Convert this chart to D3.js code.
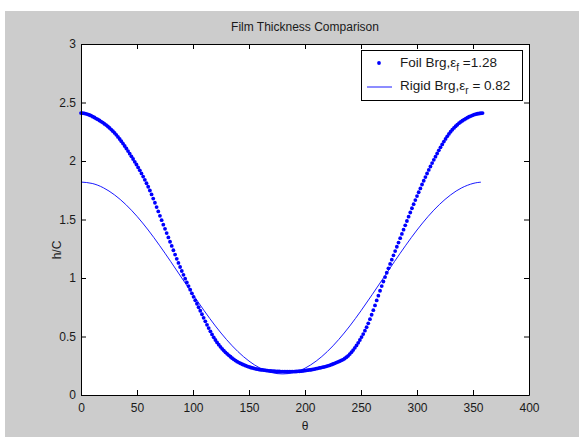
<!DOCTYPE html>
<html>
<head>
<meta charset="utf-8">
<script src="https://d3js.org/d3.v7.min.js"></script>
<style>
  body { margin: 0; background: #ffffff; }
  text { font-family: "Liberation Sans", Arial, sans-serif; }
</style>
</head>
<body>
<script>
// film thickness of the foil bearing, one value every 1.5 degrees from 0
var foilStep = 1.5;
var foilValues = [
  2.410, 2.409, 2.407, 2.403, 2.399, 2.393, 2.387, 2.379, 2.372, 2.363,
  2.355, 2.346, 2.337, 2.328, 2.317, 2.307, 2.295, 2.283, 2.269, 2.255,
  2.240, 2.224, 2.206, 2.188, 2.169, 2.149, 2.128, 2.107, 2.085, 2.063,
  2.040, 2.017, 1.993, 1.970, 1.945, 1.920, 1.894, 1.867, 1.839, 1.810,
  1.780, 1.748, 1.714, 1.679, 1.643, 1.606, 1.569, 1.531, 1.494, 1.456,
  1.420, 1.384, 1.347, 1.310, 1.274, 1.237, 1.200, 1.164, 1.129, 1.094,
  1.060, 1.027, 0.994, 0.962, 0.931, 0.900, 0.869, 0.839, 0.809, 0.780,
  0.750, 0.720, 0.690, 0.660, 0.630, 0.600, 0.572, 0.544, 0.518, 0.493,
  0.470, 0.449, 0.430, 0.412, 0.395, 0.380, 0.365, 0.352, 0.339, 0.327,
  0.315, 0.304, 0.294, 0.285, 0.277, 0.270, 0.263, 0.257, 0.251, 0.245,
  0.240, 0.235, 0.231, 0.227, 0.224, 0.221, 0.218, 0.216, 0.214, 0.212,
  0.210, 0.208, 0.207, 0.205, 0.204, 0.203, 0.202, 0.201, 0.201, 0.200,
  0.200, 0.200, 0.199, 0.199, 0.199, 0.200, 0.200, 0.200, 0.201, 0.202,
  0.203, 0.204, 0.206, 0.208, 0.210, 0.212, 0.214, 0.216, 0.219, 0.222,
  0.225, 0.228, 0.231, 0.234, 0.238, 0.241, 0.245, 0.249, 0.254, 0.259,
  0.265, 0.271, 0.277, 0.283, 0.289, 0.296, 0.303, 0.312, 0.323, 0.335,
  0.350, 0.366, 0.384, 0.403, 0.424, 0.446, 0.470, 0.495, 0.521, 0.550,
  0.580, 0.613, 0.648, 0.686, 0.725, 0.766, 0.808, 0.849, 0.891, 0.931,
  0.970, 1.008, 1.045, 1.083, 1.120, 1.157, 1.194, 1.230, 1.267, 1.303,
  1.340, 1.377, 1.413, 1.450, 1.487, 1.524, 1.560, 1.596, 1.631, 1.666,
  1.700, 1.733, 1.766, 1.799, 1.831, 1.863, 1.893, 1.924, 1.953, 1.982,
  2.010, 2.037, 2.064, 2.091, 2.117, 2.142, 2.166, 2.189, 2.211, 2.231,
  2.250, 2.267, 2.283, 2.297, 2.310, 2.323, 2.334, 2.344, 2.353, 2.362,
  2.370, 2.378, 2.384, 2.390, 2.396, 2.400, 2.404, 2.406, 2.408, 2.410
];

// film thickness of the rigid bearing
var rigidTheta = [0, 10, 20, 30, 40, 50, 60, 70, 80, 90, 100, 110, 120,
                  130, 140, 150, 160, 170, 180, 190, 200, 210, 220, 230,
                  240, 250, 260, 270, 280, 290, 300, 310, 320, 330, 340,
                  350, 357];
var rigidValues = [1.820, 1.808, 1.771, 1.710, 1.628, 1.527, 1.410, 1.280,
                   1.142, 1.000, 0.858, 0.720, 0.590, 0.473, 0.372, 0.290,
                   0.229, 0.192, 0.180, 0.192, 0.229, 0.290, 0.372, 0.473,
                   0.590, 0.720, 0.858, 1.000, 1.142, 1.280, 1.410, 1.527,
                   1.628, 1.710, 1.771, 1.808, 1.819];

// ticks
var xTicks = [0, 50, 100, 150, 200, 250, 300, 350, 400];
var yTicks = [0, 0.5, 1, 1.5, 2, 2.5, 3];
var yTickLabels = ["0", "0.5", "1", "1.5", "2", "2.5", "3"];

// svg size and axes box
var w = 579;
var h = 437;
var boxLeft = 81;
var boxRight = 529;
var boxTop = 44;
var boxBottom = 395;
var blue = "#0000ff";

var svg = d3.select("body")
            .append("svg")
            .attr("width", w)
            .attr("height", h);

// grey figure background
svg.append("rect")
   .attr("x", 5)
   .attr("y", 11)
   .attr("width", w - 5)
   .attr("height", h - 11)
   .attr("fill", "#cccccc");

// white axes area
svg.append("rect")
   .attr("x", boxLeft)
   .attr("y", boxTop)
   .attr("width", boxRight - boxLeft)
   .attr("height", boxBottom - boxTop)
   .attr("fill", "#ffffff");

var xScale = d3.scaleLinear()
               .domain([0, 400])
               .range([boxLeft, boxRight]);
var yScale = d3.scaleLinear()
               .domain([0, 3])
               .range([boxBottom, boxTop]);

// rigid bearing line
var line = d3.line()
             .x(function(d, i) { return xScale(rigidTheta[i]); })
             .y(function(d) { return yScale(d); })
             .curve(d3.curveNatural);

svg.append("path")
   .datum(rigidValues)
   .attr("d", line)
   .attr("fill", "none")
   .attr("stroke", blue)
   .attr("stroke-width", 0.9);

// foil bearing dots
svg.selectAll("circle.foil")
   .data(foilValues)
   .enter()
   .append("circle")
   .attr("class", "foil")
   .attr("cx", function(d, i) { return xScale(i * foilStep); })
   .attr("cy", function(d) { return yScale(d); })
   .attr("r", 1.9)
   .attr("fill", blue);

// axes, ticks pointing inwards like matlab
function styleAxis(g) {
  g.attr("font-size", 12)
   .attr("font-family", "Liberation Sans, Arial, sans-serif")
   .attr("color", "#000");
  g.selectAll("text").attr("fill", "#1a1a1a");
}

svg.append("g")
   .attr("transform", "translate(0," + boxBottom + ")")
   .call(d3.axisBottom(xScale).tickValues(xTicks)
           .tickSizeInner(-5).tickSizeOuter(0).tickPadding(8))
   .call(styleAxis);

svg.append("g")
   .attr("transform", "translate(0," + boxTop + ")")
   .call(d3.axisTop(xScale).tickValues(xTicks)
           .tickSizeInner(-5).tickSizeOuter(0).tickFormat(""))
   .call(styleAxis);

svg.append("g")
   .attr("transform", "translate(" + boxLeft + ",0)")
   .call(d3.axisLeft(yScale).tickValues(yTicks)
           .tickSizeInner(-5).tickSizeOuter(0).tickPadding(5)
           .tickFormat(function(d, i) { return yTickLabels[i]; }))
   .call(styleAxis);

svg.append("g")
   .attr("transform", "translate(" + boxRight + ",0)")
   .call(d3.axisRight(yScale).tickValues(yTicks)
           .tickSizeInner(-5).tickSizeOuter(0).tickFormat(""))
   .call(styleAxis);

// title and axis labels
svg.append("text")
   .attr("x", (boxLeft + boxRight) / 2)
   .attr("y", 31)
   .attr("text-anchor", "middle")
   .attr("font-size", 12)
   .attr("fill", "#1a1a1a")
   .text("Film Thickness Comparison");

svg.append("text")
   .attr("x", (boxLeft + boxRight) / 2)
   .attr("y", 430)
   .attr("text-anchor", "middle")
   .attr("font-size", 12)
   .attr("fill", "#1a1a1a")
   .text("θ");

// ylabel sits between the 1 and 1.5 tick labels
svg.append("text")
   .attr("transform", "translate(61,250) rotate(-90)")
   .attr("text-anchor", "middle")
   .attr("font-size", 12)
   .attr("fill", "#1a1a1a")
   .text("h/C");

// legend
var legend = svg.append("g");

legend.append("rect")
      .attr("x", 361.5)
      .attr("y", 50.5)
      .attr("width", 161)
      .attr("height", 50)
      .attr("fill", "#ffffff")
      .attr("stroke", "#000")
      .attr("stroke-width", 1);

legend.append("circle")
      .attr("cx", 379)
      .attr("cy", 63)
      .attr("r", 1.9)
      .attr("fill", blue);

legend.append("line")
      .attr("x1", 367)
      .attr("x2", 392)
      .attr("y1", 87)
      .attr("y2", 87)
      .attr("stroke", blue)
      .attr("stroke-width", 0.9);

var entries = [
  {y: 67, main: "Foil Brg,ε", sub: "f", rest: " =1.28"},
  {y: 90, main: "Rigid Brg,ε", sub: "r", rest: " = 0.82"}
];

entries.forEach(function(e) {
  var t = legend.append("text")
                .attr("x", 400)
                .attr("y", e.y)
                .attr("font-size", 13.5)
                .attr("fill", "#1a1a1a");
  t.append("tspan").text(e.main);
  t.append("tspan").attr("dy", 4).attr("font-size", 10).text(e.sub);
  t.append("tspan").attr("dy", -4).text(e.rest);
});
</script>
</body>
</html>
